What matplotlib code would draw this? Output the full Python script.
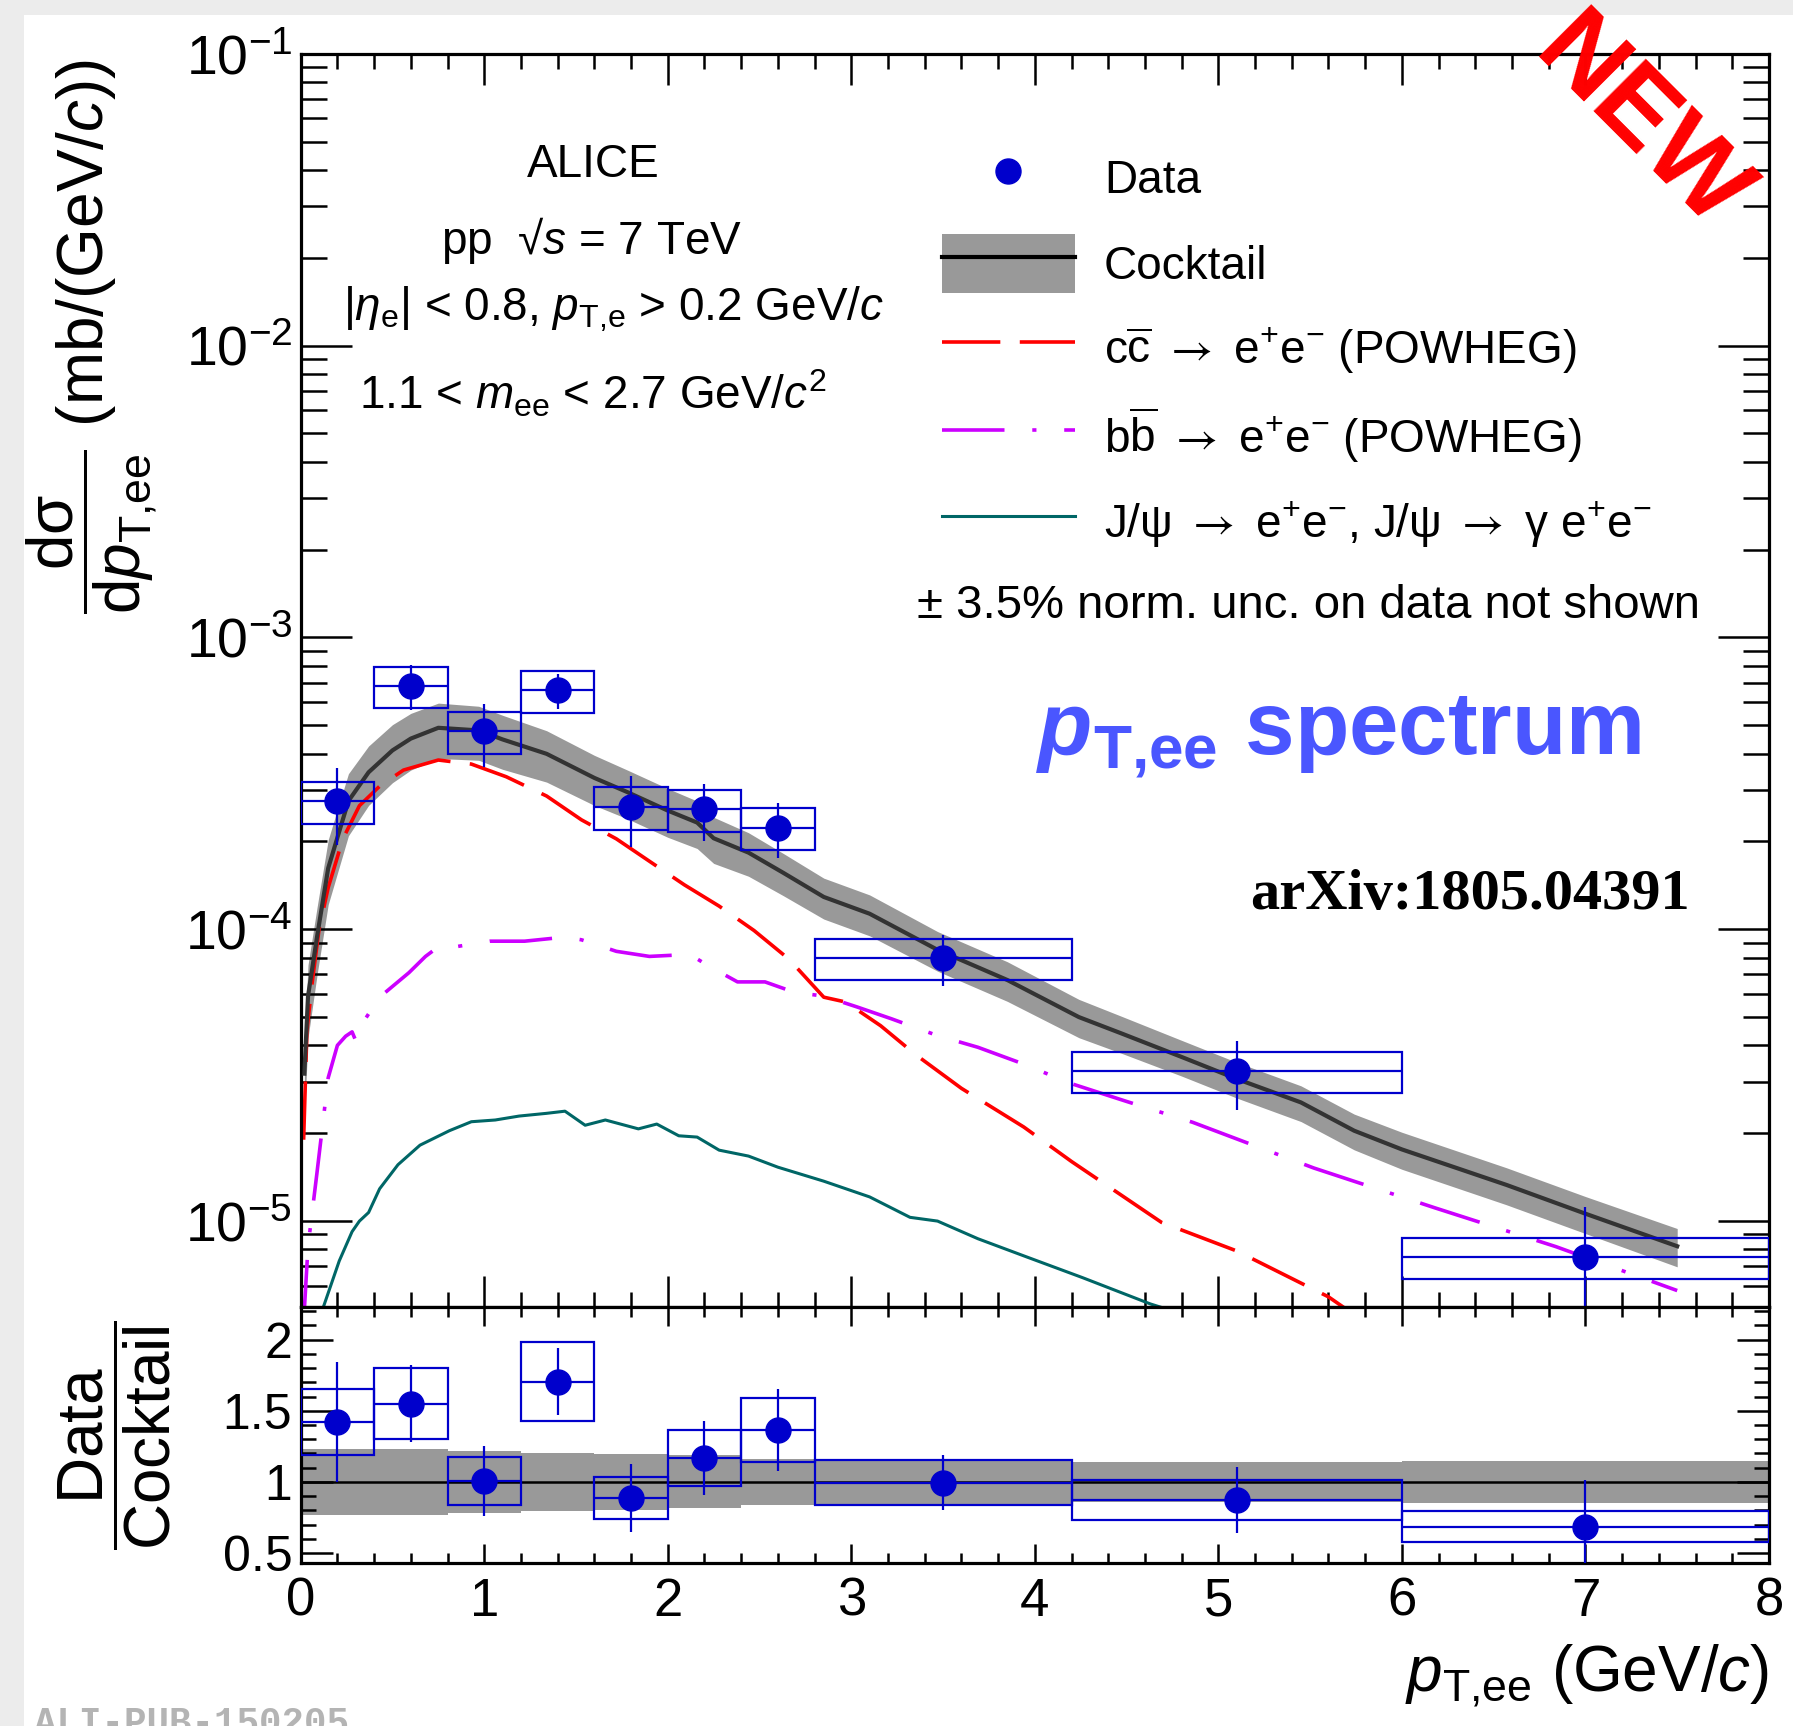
import matplotlib
matplotlib.use('Agg')
import matplotlib.pyplot as plt
from matplotlib.lines import Line2D
from matplotlib.patches import Patch, Rectangle
from matplotlib.ticker import MultipleLocator, LogLocator, FormatStrFormatter, NullFormatter
import numpy as np

plt.rcParams['font.family'] = ['Liberation Sans', 'DejaVu Sans']
plt.rcParams['mathtext.fontset'] = 'custom'
plt.rcParams['mathtext.rm'] = 'Liberation Sans'
plt.rcParams['mathtext.it'] = 'Liberation Sans:italic'
plt.rcParams['mathtext.bf'] = 'Liberation Sans:bold'
plt.rcParams['mathtext.bfit'] = 'Liberation Sans:italic:bold'
plt.rcParams['mathtext.sf'] = 'Liberation Sans'
plt.rcParams['mathtext.cal'] = 'STIXGeneral'   # used only for the arrows
plt.rcParams['lines.scale_dashes'] = False

# ---- data points (bin centres, half widths) ----
x_pt = np.array([0.2, 0.6, 1.0, 1.4, 1.8, 2.2, 2.6, 3.5, 5.1, 7.0])
x_hw = np.array([0.2, 0.2, 0.2, 0.2, 0.2, 0.2, 0.2, 0.7, 0.9, 1.0])
y_pt = np.array([2.75e-4, 6.84e-4, 4.77e-4, 6.6e-4, 2.63e-4, 2.58e-4, 2.23e-4, 7.97e-5, 3.27e-5, 7.55e-6])
rel_stat = np.array([0.296, 0.174, 0.244, 0.138, 0.27, 0.222, 0.212, 0.196, 0.264, 0.48])
rel_sys = np.array([0.164, 0.161, 0.166, 0.164, 0.166, 0.167, 0.165, 0.161, 0.16, 0.16])

# ratio data / cocktail
r_pt = np.array([1.42, 1.55, 1.005, 1.705, 0.888, 1.17, 1.365, 0.995, 0.872, 0.686])
r_stat = np.array([0.42, 0.27, 0.245, 0.235, 0.24, 0.26, 0.29, 0.195, 0.23, 0.33])
r_sys = np.array([0.233, 0.25, 0.167, 0.28, 0.147, 0.195, 0.225, 0.16, 0.14, 0.11])
bin_edges = np.array([0.0, 0.4, 0.8, 1.2, 1.6, 2.0, 2.4, 2.8, 4.2, 6.0, 8.0])
r_band = np.array([0.23, 0.23, 0.218, 0.205, 0.195, 0.186, 0.163, 0.16, 0.14, 0.145])

# ---- cocktail ----
ck_x = [0.02, 0.04, 0.09, 0.15, 0.26, 0.37, 0.5, 0.6, 0.75, 0.97, 1.1, 1.34, 1.6, 1.78, 2.0,
        2.16, 2.25, 2.44, 2.63, 2.85, 3.1, 3.47, 3.85, 4.24, 4.47, 4.8, 5.1, 5.45, 5.74, 6.0,
        6.57, 7.0, 7.5]
ck_y = [3.2e-5, 5.9e-5, 9.5e-5, 1.62e-4, 2.75e-4, 3.45e-4, 4.1e-4, 4.5e-4, 4.9e-4, 4.8e-4,
        4.47e-4, 3.99e-4, 3.3e-4, 2.95e-4, 2.55e-4, 2.32e-4, 2.05e-4, 1.83e-4, 1.56e-4, 1.29e-4,
        1.13e-4, 8.5e-5, 6.7e-5, 5.0e-5, 4.4e-5, 3.65e-5, 3.07e-5, 2.55e-5, 2.04e-5, 1.76e-5,
        1.33e-5, 1.06e-5, 8.2e-6]
ck_rel = [0.3, 0.28, 0.26, 0.25, 0.24, 0.23, 0.225, 0.22, 0.215, 0.21, 0.21, 0.2, 0.195, 0.19,
          0.19, 0.185, 0.18, 0.17, 0.165, 0.16, 0.16, 0.155, 0.155, 0.15, 0.145, 0.14, 0.14,
          0.14, 0.14, 0.145, 0.145, 0.145, 0.15]

# charm
cc_x = [0.016, 0.034, 0.063, 0.1, 0.15, 0.23, 0.32, 0.43, 0.56, 0.75, 0.93, 1.12, 1.34, 1.53,
        1.72, 1.9, 2.09, 2.28, 2.47, 2.66, 2.85, 2.97, 3.16, 3.35, 3.6, 3.94, 4.2, 4.69, 5.1,
        5.6, 5.8]
cc_y = [1.9e-5, 4.5e-5, 6.6e-5, 1.0e-4, 1.39e-4, 2.04e-4, 2.65e-4, 3.09e-4, 3.51e-4, 3.8e-4,
        3.68e-4, 3.33e-4, 2.86e-4, 2.37e-4, 2.04e-4, 1.71e-4, 1.42e-4, 1.2e-4, 9.9e-5, 7.9e-5,
        5.85e-5, 5.63e-5, 4.67e-5, 3.72e-5, 2.85e-5, 2.1e-5, 1.6e-5, 9.9e-6, 7.9e-6, 5.5e-6,
        4.5e-6]

# beauty
bb_x = [0.016, 0.04, 0.088, 0.15, 0.2, 0.245, 0.28, 0.3, 0.34, 0.43, 0.59, 0.68, 0.76, 0.84,
        1.03, 1.22, 1.44, 1.53, 1.72, 1.9, 2.12, 2.22, 2.38, 2.53, 2.69, 2.85, 3.03, 3.22, 3.47,
        3.69, 3.94, 4.19, 4.5, 4.86, 5.52, 6.18, 6.84, 7.5]
bb_y = [4.5e-6, 8.2e-6, 1.45e-5, 3.1e-5, 4.0e-5, 4.3e-5, 4.45e-5, 4.15e-5, 4.8e-5, 5.85e-5,
        7.1e-5, 8.07e-5, 8.8e-5, 8.7e-5, 9.1e-5, 9.1e-5, 9.4e-5, 9.2e-5, 8.4e-5, 8.07e-5, 8.2e-5,
        7.5e-5, 6.6e-5, 6.6e-5, 6.08e-5, 5.9e-5, 5.42e-5, 4.93e-5, 4.32e-5, 3.94e-5, 3.45e-5,
        2.97e-5, 2.57e-5, 2.18e-5, 1.52e-5, 1.11e-5, 8.17e-6, 5.78e-6]

# J/psi
jp_x = [0.12, 0.21, 0.28, 0.32, 0.37, 0.43, 0.53, 0.65, 0.81, 0.93, 1.06, 1.19, 1.34, 1.44,
        1.55, 1.66, 1.84, 1.94, 2.06, 2.16, 2.28, 2.44, 2.6, 2.85, 3.1, 3.32, 3.47, 3.69, 3.94,
        4.26, 4.63, 4.9]
jp_y = [5.0e-6, 7.3e-6, 9.2e-6, 1.0e-5, 1.07e-5, 1.29e-5, 1.56e-5, 1.82e-5, 2.04e-5, 2.19e-5,
        2.22e-5, 2.29e-5, 2.34e-5, 2.38e-5, 2.13e-5, 2.22e-5, 2.07e-5, 2.15e-5, 1.96e-5, 1.94e-5,
        1.75e-5, 1.67e-5, 1.53e-5, 1.37e-5, 1.21e-5, 1.03e-5, 1.0e-5, 8.7e-6, 7.6e-6, 6.4e-6,
        5.2e-6, 4.6e-6]

ck_x = np.array(ck_x); ck_y = np.array(ck_y); ck_rel = np.array(ck_rel)

blue = '#0000cc'
gray = '#999999'
arrow = r'$\mathcal{\rightarrow}$'

fig = plt.figure(figsize=(17.93, 17.26), dpi=100, facecolor='#ececec')
fig.patches.append(Rectangle((24/1793, 0), 1, 1 - 15/1726, transform=fig.transFigure,
                             facecolor='white', edgecolor='none', zorder=-10))

ax = fig.add_axes([0.1677, 0.2428, 0.8189, 0.7261])
ax2 = fig.add_axes([0.1677, 0.0944, 0.8189, 0.1484], sharex=ax)

# ---- main panel ----
ax.fill_between(ck_x, ck_y * (1 - ck_rel), ck_y * (1 + ck_rel), color=gray, lw=0, zorder=1)
ax.plot(ck_x, ck_y, color='#333333', lw=3, zorder=3)
ax.plot(cc_x, cc_y, color='#ff0000', lw=2.6, ls=(0, (42, 14)), zorder=2)
ax.plot(bb_x, bb_y, color='#cc00ff', lw=2.6, ls=(0, (45, 20, 3, 20)), zorder=2)
ax.plot(jp_x, jp_y, color='#006666', lw=2.2, zorder=2)

ax.bar(x_pt, 2 * y_pt * rel_sys, bottom=y_pt * (1 - rel_sys), width=2 * x_hw,
       fill=False, edgecolor=blue, lw=1.6, zorder=4)
ax.errorbar(x_pt, y_pt, xerr=x_hw, yerr=y_pt * rel_stat, fmt='o', ms=18, color=blue,
            ecolor=blue, elinewidth=1.6, capsize=0, zorder=5)

ax.set_yscale('log')
ax.set_xlim(0, 8)
ax.set_ylim(5.08e-6, 0.1)

# ---- ratio panel ----
ax2.bar(bin_edges[:-1], 2 * r_band, bottom=1 - r_band, width=np.diff(bin_edges),
        align='edge', color=gray, lw=0, zorder=1)
ax2.axhline(1, color='k', lw=1.8, zorder=2)
ax2.bar(x_pt, 2 * r_sys, bottom=r_pt - r_sys, width=2 * x_hw, fill=False,
        edgecolor=blue, lw=1.6, zorder=4)
ax2.errorbar(x_pt, r_pt, xerr=x_hw, yerr=r_stat, fmt='o', ms=18, color=blue,
             ecolor=blue, elinewidth=1.6, capsize=0, zorder=5)
ax2.set_ylim(0.43, 2.23)

# ---- axes styling ----
for a in (ax, ax2):
    for s in a.spines.values():
        s.set_linewidth(2.3)
    a.tick_params(which='both', direction='in', top=True, right=True, width=1.8)

ax.xaxis.set_major_locator(MultipleLocator(1))
ax.xaxis.set_minor_locator(MultipleLocator(0.2))
ax.yaxis.set_major_locator(LogLocator(base=10))
ax.yaxis.set_minor_locator(LogLocator(base=10, subs=np.arange(2, 10)))
ax.yaxis.set_minor_formatter(NullFormatter())
ax.tick_params(axis='x', which='major', length=22, labelbottom=False)
ax.tick_params(axis='x', which='minor', length=11)
ax.tick_params(axis='y', which='major', length=37, labelsize=40, pad=6)
ax.tick_params(axis='y', which='minor', length=19)

ax2.yaxis.set_major_locator(MultipleLocator(0.5))
ax2.yaxis.set_minor_locator(MultipleLocator(0.1))
ax2.yaxis.set_major_formatter(FormatStrFormatter('%g'))
ax2.tick_params(axis='x', which='major', length=14, labelsize=38, pad=10)
ax2.tick_params(axis='x', which='minor', length=7)
ax2.tick_params(axis='y', which='major', length=23, labelsize=36, pad=6)
ax2.tick_params(axis='y', which='minor', length=11)

# axis titles
fig.text(0.051, 0.805, r'$\dfrac{\mathrm{d\sigma}}{\mathrm{d}p_{\mathrm{T{,}ee}}}$ (mb/(GeV/$c$))',
         rotation=90, ha='center', va='center', fontsize=46)
fig.text(0.064, 0.1686, r'$\dfrac{\mathrm{Data}}{\mathrm{Cocktail}}$',
         rotation=90, ha='center', va='center', fontsize=46)
fig.text(0.9866, 0.0209, r'$p_{\mathrm{T{,}ee}}$ (GeV/$c$)', ha='right', va='baseline',
         fontsize=46)

# text block
fig.text(0.3307, 0.8974, 'ALICE', ha='center', va='baseline', fontsize=33)
fig.text(0.330, 0.8529, r'pp  √$s$ = 7 TeV', ha='center', va='baseline', fontsize=33)
fig.text(0.3422, 0.8146, r'|$\eta_{\mathrm{e}}$| < 0.8, $p_{\mathrm{T{,}e}}$ > 0.2 GeV/$c$',
         ha='center', va='baseline', fontsize=33)
fig.text(0.3307, 0.763, r'1.1 < $m_{\mathrm{ee}}$ < 2.7 GeV/$c^{2}$',
         ha='center', va='baseline', fontsize=33)

# legend
h_data = Line2D([], [], ls='none', marker='o', ms=18, color=blue)
h_ck = (Patch(facecolor=gray, edgecolor='none'), Line2D([], [], color='k', lw=3))
h_cc = Line2D([], [], color='#ff0000', lw=2.6, ls=(0, (42, 14)))
h_bb = Line2D([], [], color='#cc00ff', lw=2.6, ls=(0, (45, 20, 3, 20)))
h_jp = Line2D([], [], color='#006666', lw=2.2)
labels = ['Data', 'Cocktail',
          r'c$\overline{\mathrm{c}}$ ' + arrow + r' e$^{+}$e$^{-}$ (POWHEG)',
          r'b$\overline{\mathrm{b}}$ ' + arrow + r' e$^{+}$e$^{-}$ (POWHEG)',
          r'J/ψ ' + arrow + r' e$^{+}$e$^{-}$, J/ψ ' + arrow + r' γ e$^{+}$e$^{-}$']
ax.legend([h_data, h_ck, h_cc, h_bb, h_jp], labels, loc='upper left',
          bbox_to_anchor=(0.4368, 0.924), frameon=False, fontsize=33, borderpad=0,
          borderaxespad=0, handlelength=2.9, handleheight=1.6, handletextpad=0.63,
          labelspacing=0.58, numpoints=1)

fig.text(0.7296, 0.6422, '± 3.5% norm. unc. on data not shown', ha='center', va='baseline',
         fontsize=34)
fig.text(0.9152, 0.5627, r'$\mathbfit{p}_{\mathbf{T{,}ee}}$ spectrum', ha='right', va='baseline',
         fontsize=64, fontweight='bold', color='#4a56ff')
fig.text(0.9426, 0.4733, 'arXiv:1805.04391', ha='right', va='baseline', fontsize=42,
         fontweight='bold', family='Liberation Serif')
fig.text(0.9145, 0.927, 'NEW', ha='center', va='center', rotation=-45, fontsize=78,
         fontweight='bold', color='#ff0000', zorder=20)
fig.text(0.019, 0.0116, 'ALI-PUB-150205', ha='left', va='top', fontsize=27,
         family='Liberation Mono', fontweight='bold', color='#b4b4b4')

fig.savefig('out.png', dpi=100, facecolor=fig.get_facecolor())
